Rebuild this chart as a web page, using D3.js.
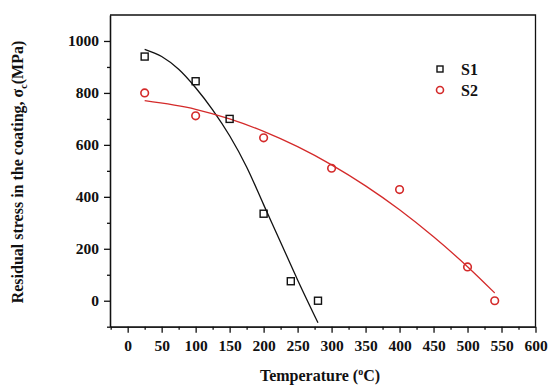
<!DOCTYPE html>
<html>
<head>
<meta charset="utf-8">
<script src="https://cdn.jsdelivr.net/npm/d3@7"></script>
<style>
	body{margin:0;background:#fff;}
	text{font-family:"Liberation Serif","Times New Roman",serif;font-weight:bold;fill:#111;}
	.axis path,.axis line{stroke:#111;stroke-width:1.3;}
</style>
</head>
<body>
<div id="chart"></div>
<script>
// measured points
var s1Temp = [25,100,150,200,240,280];
var s1Stress = [940,845,700,335,75,0];
var s2Temp = [25,100,200,300,400,500,540];
var s2Stress = [800,712,627,510,428,130,0];

// fitted curves
var fit1Temp = [25,50,75,100,125,150,175,200,225,250,280];
var fit1Stress = [968,940,891,820,735,635,515,370,225,80,-85];
var fit2Temp = [25,100,150,200,250,300,350,400,450,500,540];
var fit2Stress = [770,737,700,652,593,523,442,350,246,131,30];

var xMajor = [0,50,100,150,200,250,300,350,400,450,500,550,600];
var xMinor = [-25,25,75,125,175,225,275,325,375,425,475,525,575];
var yMajor = [0,200,400,600,800,1000];
var yMinor = [-100,100,300,500,700,900];

var W = 550, H = 392;
var box = {l:110,t:15,r:535.5,b:326.7};
var FONT = '"Liberation Serif","Times New Roman",serif';

var svg = d3.select('#chart').append('svg')
	.attr('width',W).attr('height',H);

var x = d3.scaleLinear().domain([-26,600]).range([box.l,box.r]);
var y = d3.scaleLinear().domain([-100,1100]).range([box.b,box.t]);

function zip(a,b){ return a.map(function(v,i){return [v,b[i]];}); }

// frame (top and right)
svg.append('path')
	.attr('d','M'+box.l+','+box.t+'H'+box.r+'V'+box.b)
	.attr('fill','none').attr('stroke','#111').attr('stroke-width',1.3);

// axes
svg.append('g').attr('class','axis')
	.attr('transform','translate(0,'+box.b+')')
	.call(d3.axisBottom(x).tickValues(xMinor).tickSize(3).tickFormat('').tickSizeOuter(0));
svg.append('g').attr('class','axis')
	.attr('transform','translate(0,'+box.b+')')
	.call(d3.axisBottom(x).tickValues(xMajor).tickSize(6).tickPadding(7).tickSizeOuter(0).tickFormat(d3.format('d')))
	.attr('font-family',FONT).attr('font-size',15.5)
	.selectAll('text').attr('font-weight','bold');

svg.append('g').attr('class','axis')
	.attr('transform','translate('+box.l+',0)')
	.call(d3.axisLeft(y).tickValues(yMinor).tickSize(3).tickFormat('').tickSizeOuter(0));
svg.append('g').attr('class','axis')
	.attr('transform','translate('+box.l+',0)')
	.call(d3.axisLeft(y).tickValues(yMajor).tickSize(6).tickPadding(5).tickSizeOuter(0).tickFormat(d3.format('d')))
	.attr('font-family',FONT).attr('font-size',15.5)
	.selectAll('text').attr('font-weight','bold');

// fitted lines
var line = d3.line()
	.x(function(d){return x(d[0]);})
	.y(function(d){return y(d[1]);})
	.curve(d3.curveMonotoneX);

svg.append('path').datum(zip(fit1Temp,fit1Stress))
	.attr('d',line).attr('fill','none').attr('stroke','#111').attr('stroke-width',1.3);
svg.append('path').datum(zip(fit2Temp,fit2Stress))
	.attr('d',line).attr('fill','none').attr('stroke','#d42a2a').attr('stroke-width',1.3);

// markers
svg.selectAll('.sq').data(zip(s1Temp,s1Stress)).enter()
	.append('rect').attr('class','sq')
	.attr('x',function(d){return x(d[0])-3.5;})
	.attr('y',function(d){return y(d[1])-3.5;})
	.attr('width',7).attr('height',7)
	.attr('fill','none').attr('stroke','#111').attr('stroke-width',1.4);

svg.selectAll('.ci').data(zip(s2Temp,s2Stress)).enter()
	.append('circle').attr('class','ci')
	.attr('cx',function(d){return x(d[0]);})
	.attr('cy',function(d){return y(d[1]);})
	.attr('r',3.8)
	.attr('fill','none').attr('stroke','#d42a2a').attr('stroke-width',1.6);

// legend
svg.append('rect').attr('x',437).attr('y',66).attr('width',6).attr('height',6)
	.attr('fill','none').attr('stroke','#111').attr('stroke-width',1.4);
svg.append('text').attr('x',461).attr('y',75).style('font-size','16px').text('S1');
svg.append('circle').attr('cx',440).attr('cy',90).attr('r',3.5)
	.attr('fill','none').attr('stroke','#d42a2a').attr('stroke-width',1.6);
svg.append('text').attr('x',461).attr('y',96).style('font-size','16px').text('S2');

// axis titles
var xt = svg.append('text').attr('x',320).attr('y',381)
	.attr('text-anchor','middle').style('font-size','16px');
xt.append('tspan').text('Temperature (');
xt.append('tspan').attr('dy',-6).style('font-size','10px').text('o');
xt.append('tspan').attr('dy',6).text('C)');

var yt = svg.append('text')
	.attr('transform','translate(23,172) rotate(-90)')
	.attr('text-anchor','middle').style('font-size','16px');
yt.append('tspan').text('Residual stress in the coating, σ');
yt.append('tspan').attr('dy',4).style('font-size','10px').text('c');
yt.append('tspan').attr('dy',-4).text('(MPa)');
</script>
</body>
</html>
